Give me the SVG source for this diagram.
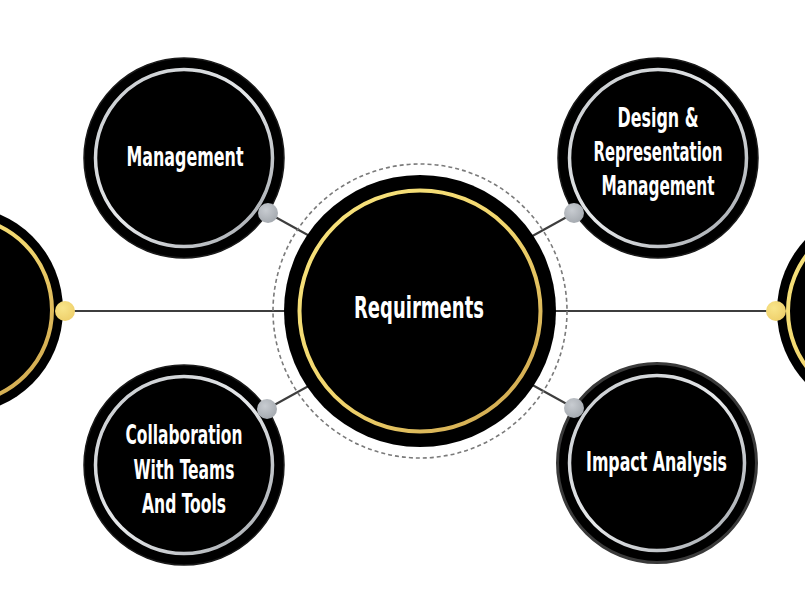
<svg xmlns="http://www.w3.org/2000/svg" width="805" height="590" viewBox="0 0 805 590">
<defs>
<linearGradient id="gold" x1="0" y1="0" x2="1" y2="1">
<stop offset="0" stop-color="#f7e47e"/>
<stop offset="0.5" stop-color="#f2d66e"/>
<stop offset="1" stop-color="#caa04a"/>
</linearGradient>
<linearGradient id="silver" x1="0" y1="0" x2="1" y2="1">
<stop offset="0" stop-color="#c4c8cc"/>
<stop offset="0.5" stop-color="#e6e8ea"/>
<stop offset="1" stop-color="#9ea3a9"/>
</linearGradient>
<radialGradient id="dotgray" cx="0.4" cy="0.35" r="0.7">
<stop offset="0" stop-color="#c8ccd1"/>
<stop offset="1" stop-color="#a3a8ae"/>
</radialGradient>
<radialGradient id="dotgold" cx="0.4" cy="0.35" r="0.7">
<stop offset="0" stop-color="#f8e58a"/>
<stop offset="1" stop-color="#eecf6a"/>
</radialGradient>
</defs>
<style>
.line{stroke:#3d3d3d;stroke-width:2;fill:none}
.disc{fill:#000}
.gring{fill:none;stroke:url(#gold);stroke-width:4}
.sring{fill:none;stroke:url(#silver);stroke-width:3.5}
.gdot{fill:url(#dotgray)}
.ydot{fill:url(#dotgold)}
.lbl{font-family:"Liberation Sans Narrow","DejaVu Sans Condensed","Roboto",sans-serif;font-weight:bold;fill:#fff;text-anchor:middle}
</style>
<rect width="805" height="590" fill="#fff"/>
<g id="connectors">
<line class="line" x1="65" y1="311" x2="290" y2="311"/>
<line class="line" x1="550" y1="311" x2="776" y2="311"/>
<line class="line" x1="268" y1="213" x2="315" y2="239"/>
<line class="line" x1="574" y1="213" x2="527" y2="239"/>
<line class="line" x1="267" y1="409" x2="314" y2="383"/>
<line class="line" x1="574" y1="408" x2="527" y2="382"/>
</g>
<g id="node-left">
<circle class="disc" cx="-41" cy="310" r="104"/>
<circle class="gring" cx="-41" cy="310" r="93"/>
<circle class="ydot" cx="65" cy="311" r="10"/>
</g>
<g id="node-right">
<circle class="disc" cx="881" cy="311" r="104"/>
<circle class="gring" cx="881" cy="311" r="93"/>
<circle class="ydot" cx="776" cy="311" r="10"/>
</g>
<g id="node-center">
<circle cx="420" cy="311" r="147" fill="none" stroke="#7a7a7a" stroke-width="1.6" stroke-dasharray="4 3"/>
<circle class="disc" cx="420" cy="311" r="136"/>
<circle class="gring" cx="420" cy="311" r="120.5"/>
<text class="lbl" x="419" y="318" font-size="31" textLength="130" lengthAdjust="spacingAndGlyphs">Requirments</text>
</g>
<g id="node-management">
<circle class="disc" cx="184" cy="158" r="100" stroke="#1a1a1a" stroke-width="1.5"/>
<circle class="sring" cx="184" cy="158" r="88.5"/>
<circle class="gdot" cx="268" cy="213" r="10"/>
<text class="lbl" x="185" y="166" font-size="27" textLength="117" lengthAdjust="spacingAndGlyphs">Management</text>
</g>
<g id="node-design">
<circle class="disc" cx="658" cy="158" r="100" stroke="#1a1a1a" stroke-width="1.5"/>
<circle class="sring" cx="658" cy="158" r="88.5"/>
<circle class="gdot" cx="574" cy="213" r="10"/>
<text class="lbl" x="658" y="127" font-size="26" textLength="81" lengthAdjust="spacingAndGlyphs">Design &amp;</text>
<text class="lbl" x="658" y="161" font-size="26" textLength="129" lengthAdjust="spacingAndGlyphs">Representation</text>
<text class="lbl" x="658" y="195" font-size="26" textLength="113" lengthAdjust="spacingAndGlyphs">Management</text>
</g>
<g id="node-collaboration">
<circle class="disc" cx="184" cy="465" r="100" stroke="#1a1a1a" stroke-width="1.5"/>
<circle class="sring" cx="184" cy="465" r="88.5"/>
<circle class="gdot" cx="267" cy="409" r="10"/>
<text class="lbl" x="184" y="444" font-size="26" textLength="117" lengthAdjust="spacingAndGlyphs">Collaboration</text>
<text class="lbl" x="184" y="479" font-size="26" textLength="101" lengthAdjust="spacingAndGlyphs">With Teams</text>
<text class="lbl" x="184" y="513" font-size="26" textLength="84" lengthAdjust="spacingAndGlyphs">And Tools</text>
</g>
<g id="node-impact">
<circle class="disc" cx="657" cy="463" r="99.5" stroke="#3a3a3a" stroke-width="3"/>
<circle class="sring" cx="657" cy="463" r="87.5"/>
<circle class="gdot" cx="574" cy="408" r="10"/>
<text class="lbl" x="656.5" y="471" font-size="26" textLength="141" lengthAdjust="spacingAndGlyphs">Impact Analysis</text>
</g>
</svg>
